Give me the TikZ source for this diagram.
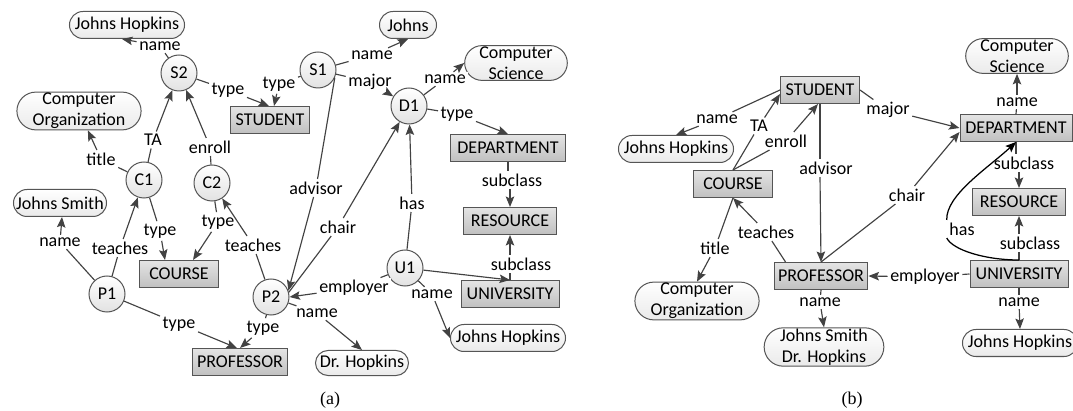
\documentclass[tikz,border=0pt]{standalone}
\usepackage{fontspec}
\setmainfont{Carlito}
\newfontfamily\capfont{Liberation Serif}
\usetikzlibrary{arrows.meta,shapes.misc}

\definecolor{linecol}{HTML}{424242}
\definecolor{boxline}{HTML}{555555}
\definecolor{boxtop}{HTML}{E4E4E4}
\definecolor{boxbot}{HTML}{C0C0C0}
\definecolor{circbot}{HTML}{E2E2E2}
\definecolor{litbot}{HTML}{EAEAEA}

\tikzset{
  every node/.style={font=\fontsize{18}{21}\selectfont},
  cls/.style={draw=boxline, line width=1pt, top color=boxtop, bottom color=boxbot,
              minimum height=27pt, inner xsep=4pt, inner ysep=1pt},
  inst/.style={circle, draw=boxline, line width=1pt, top color=white, bottom color=circbot,
               minimum size=36pt, inner sep=0pt},
  lit/.style={rounded rectangle, draw=boxline, line width=1pt, top color=white, bottom color=litbot,
              minimum height=27pt, inner xsep=3pt, inner ysep=1pt, align=center},
  lbl/.style={fill=white, inner sep=2.5pt},
  conn/.style={draw=linecol, line width=1.15pt},
  arr/.style={conn, -{Stealth[length=10.5pt,width=8.5pt,inset=2pt]}},
  hasline/.style={draw=black, line width=1.25pt},
}

\begin{document}
\begin{tikzpicture}[x=1pt,y=-1pt]
\useasboundingbox (0,0) rectangle (1073,411);

% ---------------- instance graph (a) ----------------
\node[lit, minimum width=115pt] (JHa) at (127,25) {Johns Hopkins};
\node[inst] (S2) at (179,73) {S2};
\node[cls, minimum width=79pt] (STUa) at (270,120) {STUDENT};
\node[inst] (S1) at (318,70) {S1};
\node[lit, minimum width=63pt] (Johns) at (408,25) {Johns};
\node[lit, minimum width=98pt] (CSa) at (516,63) {Computer\\Science};
\node[inst] (D1) at (409,106) {D1};
\node[cls, minimum width=115pt] (DEPa) at (508,148) {DEPARTMENT};
\node[cls, minimum width=93pt] (RESa) at (510,221) {RESOURCE};
\node[cls, minimum width=98pt] (UNIa) at (510,294) {UNIVERSITY};
\node[inst] (U1) at (405,268) {U1};
\node[lit, minimum width=115pt] (JHa2) at (508,338) {Johns Hopkins};
\node[inst] (P2) at (271,297) {P2};
\node[lit, minimum width=99pt, minimum height=25pt] (DrH) at (362,363) {Dr. Hopkins};
\node[cls, minimum width=95pt] (PROa) at (240,362) {PROFESSOR};
\node[cls, minimum width=79pt] (COUa) at (179,274) {COURSE};
\node[inst] (C1) at (144,180) {C1};
\node[inst] (C2) at (212,183) {C2};
\node[lit, minimum width=108pt] (COa) at (79,111) {Computer\\Organization};
\node[lit, minimum width=99pt] (JS) at (60,203) {Johns Smith};
\node[inst] (P1) at (107,294) {P1};

% link labels (a)
\node[lbl] (a1) at (160,46) {name};
\node[lbl] (a2) at (228,90) {type};
\node[lbl] (a3) at (279,84) {type};
\node[lbl] (a4) at (372,55) {name};
\node[lbl] (a5) at (370,82) {major};
\node[lbl] (a6) at (316,188) {advisor};
\node[lbl] (a7) at (445,79) {name};
\node[lbl] (a8) at (457,114) {type};
\node[lbl] (a9) at (512,180) {subclass};
\node[lbl] (a10) at (521,264) {subclass};
\node[lbl] (a11) at (412,203) {has};
\node[lbl] (a12) at (432,294) {name};
\node[lbl] (a13) at (354,288) {employer};
\node[lbl] (a14) at (338,227) {chair};
\node[lbl] (a15) at (253,245) {teaches};
\node[lbl] (a16) at (263,328) {type};
\node[lbl] (a17) at (317,313) {name};
\node[lbl] (a18) at (179,324) {type};
\node[lbl] (a19) at (120,248) {teaches};
\node[lbl] (a20) at (60,242) {name};
\node[lbl] (a21) at (101,159) {title};
\node[lbl] (a22) at (153,140) {TA};
\node[lbl] (a23) at (160,231) {type};
\node[lbl] (a24) at (218,222) {type};
\node[lbl] (a25) at (210,147) {enroll};

% connections (a)
\draw[conn] (S2) -- (a1);  \draw[arr] (a1) -- ([xshift=-5pt]JHa.south);
\draw[conn] (S2) -- (a2);  \draw[arr] (a2) -- ([xshift=-1pt]STUa.north);
\draw[conn] (S1) -- (a3);  \draw[arr] (a3) -- ([xshift=4pt]STUa.north);
\draw[conn] (S1) -- (a4);  \draw[arr] (a4) -- (Johns.south);
\draw[conn] (S1) -- (a5);  \draw[arr] (a5) -- (D1);
\draw[conn] (S1.-25) -- (a6);  \draw[arr] (a6) -- (P2.20);
\draw[conn] (D1) -- (a7);  \draw[arr] (a7) -- (CSa.west);
\draw[conn] (D1) -- (a8);  \draw[arr] (a8) -- (DEPa.north);
\draw[conn] (DEPa.south) -- (a9.north -| DEPa.south);
\draw[arr] (a9.south -| RESa.north) -- (RESa.north);
\draw[conn] (UNIa.north) -- (a10.south -| UNIa.north);
\draw[arr] (a10.north -| RESa.south) -- (RESa.south);
\draw[arr] (U1) -- (UNIa.north);
\draw[conn] (U1) -- (a11);  \draw[arr] (a11) -- (D1);
\draw[conn] (U1) -- (a12);  \draw[arr] (a12) -- (JHa2.west);
\draw[conn] (U1) -- (a13);  \draw[arr] (a13) -- (P2.east);
\draw[conn] (P2.15) -- (a14);  \draw[arr] (a14) -- (D1);
\draw[conn] (P2) -- (a15);  \draw[arr] (a15) -- (C2);
\draw[conn] (P2) -- (a16);  \draw[arr] (a16) -- (PROa.north);
\draw[conn] (P2) -- (a17);  \draw[arr] (a17) -- (DrH.north);
\draw[conn] (P1) -- (a18);  \draw[arr] (a18) -- ([xshift=-3pt]PROa.north);
\draw[conn] (P1) -- (a19);  \draw[arr] (a19) -- (C1);
\draw[conn] (P1) -- (a20);  \draw[arr] (a20) -- ([xshift=2pt]JS.south);
\draw[conn] (C1) -- (a21);  \draw[arr] (a21) -- (COa);
\draw[conn] (C1) -- (a22);  \draw[arr] (a22) -- (S2);
\draw[conn] (C1) -- (a23);  \draw[arr] (a23) -- ([xshift=-14pt]COUa.north);
\draw[conn] (C2) -- (a24);  \draw[arr] (a24) -- ([xshift=14pt]COUa.north);
\draw[conn] (C2) -- (a25);  \draw[arr] (a25) -- (S2);

% ---------------- schema graph (b) ----------------
\node[cls, minimum width=79pt] (STUb) at (820,90) {STUDENT};
\node[lit, minimum width=115pt] (JHb) at (676,149) {Johns Hopkins};
\node[cls, minimum width=79pt] (COUb) at (733,184) {COURSE};
\node[cls, minimum width=93pt] (PROb) at (821,276) {PROFESSOR};
\node[lit, minimum width=109pt] (COb) at (697,301) {Computer\\Organization};
\node[lit, minimum width=108pt] (JSDH) at (824,347) {Johns Smith\\Dr. Hopkins};
\node[cls, minimum width=112pt] (DEPb) at (1016,128) {DEPARTMENT};
\node[lit, minimum width=99pt] (CSb) at (1017,56) {Computer\\Science};
\node[cls, minimum width=93pt] (RESb) at (1019,202) {RESOURCE};
\node[cls, minimum width=98pt] (UNIb) at (1019,274) {UNIVERSITY};
\node[lit, minimum width=115pt] (JHb2) at (1020,343) {Johns Hopkins};

% link labels (b)
\node[lbl] (b1) at (717,119) {name};
\node[lbl] (b2) at (759,126) {TA};
\node[lbl] (b3) at (786,141) {enroll};
\node[lbl] (b4) at (826,168) {advisor};
\node[lbl] (b5) at (888,110) {major};
\node[lbl] (b6) at (907,195) {chair};
\node[lbl] (b7) at (766,232) {teaches};
\node[lbl] (b8) at (715,248) {title};
\node[lbl] (b9) at (820,302) {name};
\node[lbl] (b10) at (1017,102) {name};
\node[lbl] (b11) at (1024,163) {subclass};
\node[lbl] (b12) at (1030,243) {subclass};
\node[lbl] (b13) at (962,229) {has};
\node[lbl] (b14) at (925,277) {employer};
\node[lbl] (b15) at (1019,302) {name};

% connections (b)
\draw[conn] (STUb.west) -- (b1);  \draw[arr] (b1) -- (JHb.north);
\draw[conn] (COUb.north) -- (b2);  \draw[arr] (b2) -- ([yshift=-4pt]STUb.west);
\draw[conn] (COUb.north) -- (b3);  \draw[arr] (b3) -- ([xshift=-2pt]STUb.south);
\draw[conn] (STUb.south) -- (b4.north -| STUb.south);
\draw[arr] (b4.south -| STUb.south) -- (PROb.north);
\draw[conn] (STUb.east) -- (b5);  \draw[arr] (b5) -- (DEPb.west);
\draw[conn] (PROb.north) -- (b6);  \draw[arr] (b6) -- ([yshift=-4pt]DEPb.west);
\draw[conn] ([xshift=12pt]PROb.north west) -- (b7);  \draw[arr] (b7) -- (COUb.south);
\draw[conn] (COUb.south) -- (b8);  \draw[arr] (b8) -- (COb.north);
\draw[conn] (PROb.south) -- (b9);  \draw[arr] (b9) -- (JSDH.north);
\draw[conn] (DEPb.north) -- (b10);  \draw[arr] (b10) -- (CSb.south);
\draw[conn] (DEPb.south) -- (b11.north -| DEPb.south);
\draw[arr] (b11.south -| RESb.north) -- (RESb.north);
\draw[conn] (UNIb.north) -- (b12.south -| UNIb.north);
\draw[arr] (b12.north -| RESb.south) -- (RESb.south);
\draw[hasline] (UNIb.north) .. controls +(-34,0) and +(6,12) .. (b13.south west);
\draw[hasline, -{Stealth[length=10.5pt,width=8.5pt,inset=2pt]}]
  (b13.north west) .. controls +(-1,-25) and +(-28,26) .. (DEPb.south);
\draw[conn] (UNIb.west) -- (b14);  \draw[arr] (b14) -- (PROb.east);
\draw[conn] (UNIb.south) -- (b15);  \draw[arr] (b15) -- (JHb2.north);

% captions
\node[font=\capfont\fontsize{18}{20}\selectfont] (capa) at (330,400) {(a)};
\node[font=\capfont\fontsize{18}{20}\selectfont] (capb) at (852,400) {(b)};
\end{tikzpicture}
\end{document}
